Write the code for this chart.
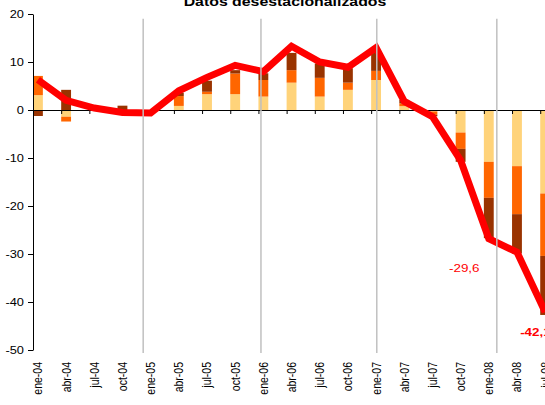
<!DOCTYPE html>
<html>
<head>
<meta charset="utf-8">
<script src="https://cdn.jsdelivr.net/npm/d3@7"></script>
<style>
  body { margin: 0; background: #fff; }
  svg { display: block; }
  text { font-family: Arial, 'Liberation Sans', sans-serif; }
</style>
</head>
<body>
<div id="chart"></div>
<script>
// quarterly categories
var categories = ['ene-04', 'abr-04', 'jul-04', 'oct-04', 'ene-05', 'abr-05', 'jul-05', 'oct-05',
  'ene-06', 'abr-06', 'jul-06', 'oct-06', 'ene-07', 'abr-07', 'jul-07', 'oct-07', 'ene-08', 'abr-08', 'jul-08']

// stacked components
var yellowValues = [3.1, -1.4, 0.2, 0, -0.3, 0.85, 3.3, 3.3, 2.8, 5.7, 2.8, 4.2, 6.25, 0.8, -0.3, -4.7, -10.8, -11.7, -17.4]
var orangeValues = [4.0, -1.0, 0.1, -0.4, -0.2, 2.05, 0.5, 4.3, 3.45, 2.6, 3.9, 1.5, 1.9, 0.6, -0.7, -3.4, -7.5, -10.0, -13.0]
var brownValues = [-1.25, 4.2, 0.1, 0.9, -0.1, 0.7, 2.3, 0.7, 1.4, 3.6, 3.0, 3.0, 4.4, 0.7, -0.3, -2.7, -8.4, -8.2, -12.3]

// total (red line)
var totalValues = [6.3, 2.0, 0.4, -0.5, -0.6, 4.0, 6.8, 9.3, 8.0, 13.3, 10.0, 8.9, 13.0, 1.8, -1.4, -10.5, -26.8, -29.6, -42.1]

var yTicks = [20, 10, 0, -10, -20, -30, -40, -50]

// year separators, in category units
var yearMarks = [3.91, 8.09, 12.2, 16.46]

// value labels
var valueLabels = [
  { index: 17, text: '-29,6', bold: false },
  { index: 18, text: '-42,1', bold: true }
]

;(function() {
  var width = 545
  var height = 405
  var plot = { left: 33, right: 568.4, top: 14, bottom: 350 }
  var stretch = 1.22

  var svg = d3
    .select('#chart')
    .append('svg')
    .attr('width', width)
    .attr('height', height)

  var xBand = d3
    .scaleBand()
    .domain(categories)
    .range([plot.left, plot.right])
    .paddingInner(0)
    .paddingOuter(0)

  var xIndex = d3
    .scaleLinear()
    .domain([0, categories.length])
    .range([plot.left, plot.right])

  var yScale = d3
    .scaleLinear()
    .domain([-50, 20])
    .range([plot.bottom, plot.top])

  var barWidth = xBand.bandwidth() * 0.35
  var barCenter = d => xBand(d) + barWidth / 2

  var keys = ['yellow', 'orange', 'brown']
  var color = d3
    .scaleOrdinal()
    .domain(keys)
    .range(['#FFD37A', '#FF6600', '#993300'])

  var table = categories.map((c, i) => ({
    cat: c,
    yellow: yellowValues[i],
    orange: orangeValues[i],
    brown: brownValues[i],
    total: totalValues[i]
  }))

  var series = d3
    .stack()
    .keys(keys)
    .offset(d3.stackOffsetDiverging)(table)

  // title (cut at the top)
  svg
    .append('text')
    .attr('transform', 'translate(285,5.5) scale(' + stretch + ',1)')
    .attr('text-anchor', 'middle')
    .attr('font-size', 13)
    .attr('font-weight', 'bold')
    .text('Datos desestacionalizados')

  // bars
  svg
    .selectAll('.layer')
    .data(series)
    .enter()
    .append('g')
    .attr('class', 'layer')
    .attr('fill', d => color(d.key))
    .selectAll('rect')
    .data(d => d)
    .enter()
    .append('rect')
    .attr('x', d => xBand(d.data.cat))
    .attr('width', barWidth)
    .attr('y', d => yScale(Math.max(d[0], d[1])))
    .attr('height', d => Math.abs(yScale(d[0]) - yScale(d[1])))

  // y axis
  var yAxis = d3
    .axisLeft(yScale)
    .tickValues(yTicks)
    .tickSize(5)
    .tickSizeOuter(0)
    .tickFormat(d => String(d))

  var yG = svg
    .append('g')
    .attr('transform', 'translate(' + plot.left + ',0)')
    .call(yAxis)
  yG.selectAll('path, line').attr('stroke', '#000')
  yG.selectAll('text')
    .attr('x', 0)
    .attr('transform', 'translate(-9,0) scale(' + stretch + ',1)')
    .attr('font-size', 10.5)
    .attr('font-family', 'Arial, Liberation Sans, sans-serif')
    .attr('fill', '#000')

  // x axis on zero
  var xAxis = d3
    .axisBottom(xIndex)
    .tickValues(d3.range(categories.length + 1))
    .tickSize(4)
    .tickSizeOuter(0)
    .tickFormat('')

  var xG = svg
    .append('g')
    .attr('transform', 'translate(0,' + yScale(0) + ')')
    .call(xAxis)
  xG.selectAll('path, line').attr('stroke', '#000')

  // category labels
  svg
    .selectAll('.cat-label')
    .data(categories)
    .enter()
    .append('text')
    .attr('class', 'cat-label')
    .attr('transform', d => 'translate(' + barCenter(d) + ',362) scale(' + stretch + ',1) rotate(-90)')
    .attr('text-anchor', 'end')
    .attr('dy', '0.35em')
    .attr('font-size', 10.5)
    .text(d => d)

  // total line
  var line = d3
    .line()
    .x(d => barCenter(d.cat))
    .y(d => yScale(d.total))

  svg
    .append('path')
    .datum(table)
    .attr('d', line)
    .attr('fill', 'none')
    .attr('stroke', '#FF0000')
    .attr('stroke-width', 7)
    .attr('stroke-linejoin', 'miter')

  // value labels
  svg
    .selectAll('.value-label')
    .data(valueLabels)
    .enter()
    .append('text')
    .attr('class', 'value-label')
    .attr('transform', d => {
      var cx = barCenter(categories[d.index])
      var x = d.bold ? cx - 25 : cx - 68
      var y = d.bold ? yScale(-46.2) : yScale(-32.9)
      return 'translate(' + x + ',' + y + ') scale(' + stretch + ',1)'
    })
    .attr('dy', '0.35em')
    .attr('font-size', 11)
    .attr('font-weight', d => (d.bold ? 'bold' : 'normal'))
    .attr('fill', '#FF0000')
    .text(d => d.text)

  // year separators
  svg
    .selectAll('.year-mark')
    .data(yearMarks)
    .enter()
    .append('line')
    .attr('class', 'year-mark')
    .attr('x1', d => xIndex(d))
    .attr('x2', d => xIndex(d))
    .attr('y1', yScale(19))
    .attr('y2', yScale(-50.6))
    .attr('stroke', '#C0C0C0')
    .attr('stroke-width', 1.5)
})()
</script>
</body>
</html>
